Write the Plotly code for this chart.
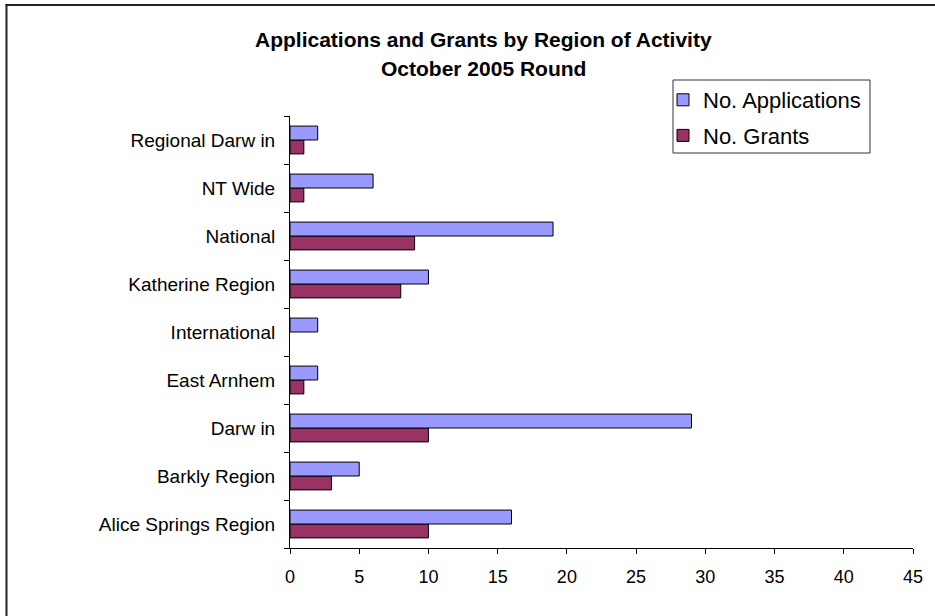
import plotly.graph_objects as go

categories = ["Alice Springs Region", "Barkly Region", "Darw in", "East Arnhem",
              "International", "Katherine Region", "National", "NT Wide", "Regional Darw in"]
applications = [16, 5, 29, 2, 2, 10, 19, 6, 2]
grants = [10, 3, 10, 1, 0, 8, 9, 1, 1]
x_ticks = [0, 5, 10, 15, 20, 25, 30, 35, 40, 45]

FONT = "Liberation Sans, Arial, sans-serif"

# plot area in pixels: x 290..913, y 116..548
PL, PR, PT, PB = 290, 913, 116, 548
PW, PH = PR - PL, PB - PT


def px(x):
    return (x - PL) / PW


def py(y):
    return (PB - y) / PH


def outline(vals):
    # no outline on zero-length bars (Excel draws nothing there)
    return [1 if v else 0 for v in vals]


fig = go.Figure()
fig.add_trace(go.Bar(
    y=categories, x=grants, orientation="h", name="No. Grants",
    marker=dict(color="#993366", line=dict(color="black", width=outline(grants))),
    legendrank=2, legendgroup="g",
))
fig.add_trace(go.Bar(
    y=categories, x=applications, orientation="h", name="No. Applications",
    marker=dict(color="#9999FF", line=dict(color="black", width=outline(applications))),
    legendrank=1, legendgroup="a",
))

fig.update_layout(
    width=935, height=616,
    margin=dict(l=PL, r=935 - PR, t=PT, b=616 - PB),
    paper_bgcolor="white", plot_bgcolor="white",
    barmode="group", bargap=0.42, bargroupgap=0,
    font=dict(family=FONT, size=18, color="black"),
    showlegend=True,
    legend=dict(
        x=px(663), xanchor="left", y=py(79), yanchor="top",
        borderwidth=0, bgcolor="rgba(0,0,0,0)",
        font=dict(size=22, family=FONT), tracegroupgap=4,
    ),
    xaxis=dict(
        range=[0, 45], tickvals=x_ticks, ticktext=[str(v) for v in x_ticks],
        showgrid=False, zeroline=False, showline=True, linecolor="black", linewidth=1,
        ticks="outside", ticklen=5, tickcolor="black", tickfont=dict(size=18),
        ticklabelstandoff=7,
    ),
    yaxis=dict(
        type="category", range=[-0.5, 8.5],
        showgrid=False, zeroline=False, showline=True, linecolor="black", linewidth=1,
        ticks="outside", ticklen=5, tickcolor="black", tickson="boundaries",
        tickfont=dict(size=19), ticklabelstandoff=10,
    ),
    annotations=[
        dict(text="<b>Applications and Grants by Region of Activity</b>", xref="paper", yref="paper",
             x=px(483.5), y=py(39), xanchor="center", yanchor="middle", showarrow=False,
             font=dict(size=21, family=FONT)),
        dict(text="<b>October 2005 Round</b>", xref="paper", yref="paper",
             x=px(483.5), y=py(68.5), xanchor="center", yanchor="middle", showarrow=False,
             font=dict(size=21, family=FONT)),
    ],
    shapes=[
        # outer chart frame: only the top and left edges fall inside the picture
        dict(type="line", xref="paper", yref="paper",
             x0=px(5.5), x1=px(935), y0=py(5), y1=py(5),
             line=dict(color="#222222", width=2), layer="below"),
        dict(type="line", xref="paper", yref="paper",
             x0=px(6.5), x1=px(6.5), y0=py(4), y1=py(616),
             line=dict(color="#222222", width=2), layer="below"),
        dict(type="rect", xref="paper", yref="paper",
             x0=px(673), x1=px(870), y0=py(153), y1=py(80),
             line=dict(color="#333333", width=1), fillcolor="white", layer="below"),
    ],
)

fig.write_html(
    "out.html",
    config={"displayModeBar": False},
    post_script="document.body.style.margin='0';document.body.style.overflow='hidden';",
)
